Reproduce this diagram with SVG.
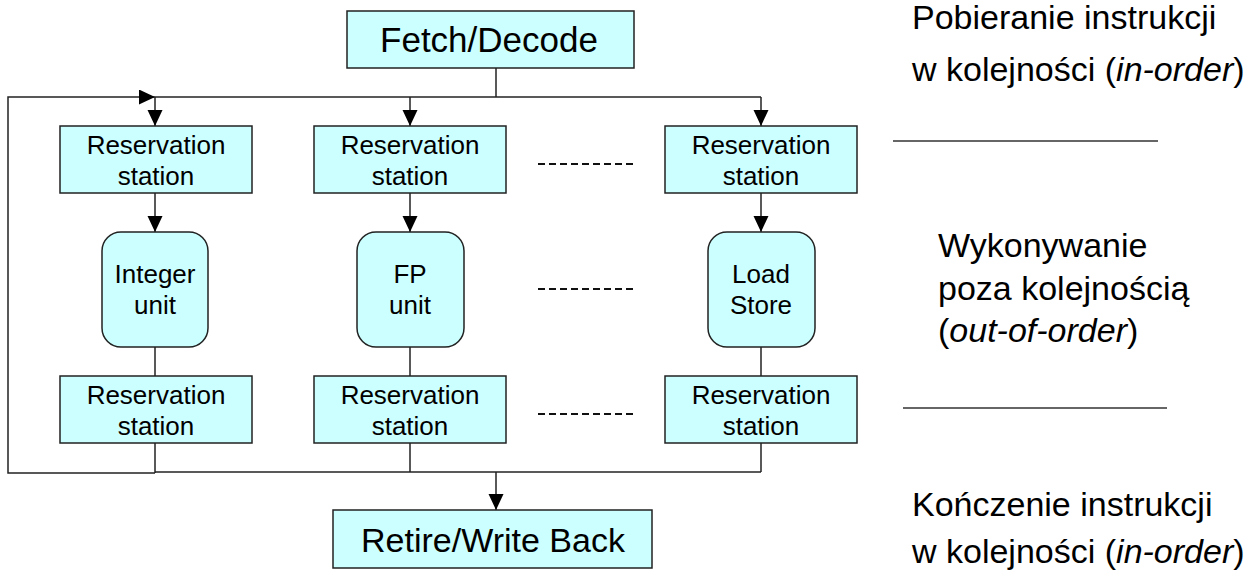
<svg xmlns="http://www.w3.org/2000/svg" width="1254" height="575" viewBox="0 0 1254 575">
  <style>
    .box { fill: #ccffff; stroke: #222; stroke-width: 1.5; }
    .wire { fill: none; stroke: #222; stroke-width: 1.5; }
    .dots { fill: none; stroke: #111; stroke-width: 2; stroke-dasharray: 7 4; }
    .rule { fill: none; stroke: #333; stroke-width: 1.5; }
    .t { font-family: "Liberation Sans", Arial, sans-serif; fill: #000; text-anchor: middle; }
    .sm { font-size: 26px; }
    .lg { font-size: 35px; }
    .lg2 { font-size: 34px; }
    .note { font-family: "Liberation Sans", Arial, sans-serif; font-size: 34px; fill: #000; }
  </style>
  <defs>
    <marker id="arrow" markerUnits="userSpaceOnUse" markerWidth="16" markerHeight="16" refX="16" refY="7.5" orient="auto">
      <path d="M0,0 L16,7.5 L0,15 z" fill="#000"/>
    </marker>
  </defs>

  <rect width="1254" height="575" fill="#fff"/>

  <!-- connectors -->
  <g id="connectors">
    <path class="wire" d="M496,68 V97"/>
    <path class="wire" d="M155,473 H8 V97 H155" marker-end="url(#arrow)"/>
    <path class="wire" d="M155,97 H761"/>
    <path class="wire" d="M155,97 V126" marker-end="url(#arrow)"/>
    <path class="wire" d="M410,97 V126" marker-end="url(#arrow)"/>
    <path class="wire" d="M761,97 V126" marker-end="url(#arrow)"/>
    <path class="wire" d="M155,193 V232" marker-end="url(#arrow)"/>
    <path class="wire" d="M410,193 V232" marker-end="url(#arrow)"/>
    <path class="wire" d="M761,193 V232" marker-end="url(#arrow)"/>
    <path class="wire" d="M155,347 V376"/>
    <path class="wire" d="M410,347 V376"/>
    <path class="wire" d="M761,347 V376"/>
    <path class="wire" d="M155,443 V473"/>
    <path class="wire" d="M410,443 V472"/>
    <path class="wire" d="M761,443 V472"/>
    <path class="wire" d="M155,472 H761"/>
    <path class="wire" d="M496,472 V510" marker-end="url(#arrow)"/>
    <!-- elided columns -->
    <path class="dots" d="M538,164 H634"/>
    <path class="dots" d="M538,289 H634"/>
    <path class="dots" d="M538,414 H634"/>
  </g>

  <g id="fetch">
    <rect class="box" x="347" y="11" width="287" height="57"/>
    <text class="t lg" x="489" y="52">Fetch/Decode</text>
  </g>

  <g id="rs-in-1">
    <rect class="box" x="60" y="126" width="192" height="67"/>
    <text class="t sm" x="156" y="154">Reservation</text>
    <text class="t sm" x="156" y="185">station</text>
  </g>
  <g id="rs-in-2">
    <rect class="box" x="314" y="126" width="192" height="67"/>
    <text class="t sm" x="410" y="154">Reservation</text>
    <text class="t sm" x="410" y="185">station</text>
  </g>
  <g id="rs-in-3">
    <rect class="box" x="665" y="126" width="192" height="67"/>
    <text class="t sm" x="761" y="154">Reservation</text>
    <text class="t sm" x="761" y="185">station</text>
  </g>

  <g id="unit-int">
    <rect class="box" x="102" y="232" width="106" height="115" rx="19"/>
    <text class="t sm" x="155" y="283">Integer</text>
    <text class="t sm" x="155" y="314">unit</text>
  </g>
  <g id="unit-fp">
    <rect class="box" x="357" y="232" width="107" height="115" rx="19"/>
    <text class="t sm" x="410" y="283">FP</text>
    <text class="t sm" x="410" y="314">unit</text>
  </g>
  <g id="unit-ls">
    <rect class="box" x="708" y="232" width="107" height="115" rx="19"/>
    <text class="t sm" x="761" y="283">Load</text>
    <text class="t sm" x="761" y="314">Store</text>
  </g>

  <g id="rs-out-1">
    <rect class="box" x="60" y="376" width="192" height="67"/>
    <text class="t sm" x="156" y="404">Reservation</text>
    <text class="t sm" x="156" y="435">station</text>
  </g>
  <g id="rs-out-2">
    <rect class="box" x="314" y="376" width="192" height="67"/>
    <text class="t sm" x="410" y="404">Reservation</text>
    <text class="t sm" x="410" y="435">station</text>
  </g>
  <g id="rs-out-3">
    <rect class="box" x="665" y="376" width="192" height="67"/>
    <text class="t sm" x="761" y="404">Reservation</text>
    <text class="t sm" x="761" y="435">station</text>
  </g>

  <g id="retire">
    <rect class="box" x="333" y="510" width="319" height="58"/>
    <text class="t lg2" x="493" y="552">Retire/Write Back</text>
  </g>

  <!-- stage notes on the right -->
  <g id="notes">
    <text class="note" x="912" y="29">Pobieranie instrukcji</text>
    <text class="note" x="912" y="81">w kolejności (<tspan font-style="italic">in-order</tspan>)</text>
    <path class="rule" d="M893,141 H1158"/>
    <text class="note" x="938" y="257">Wykonywanie</text>
    <text class="note" x="938" y="300">poza kolejnością</text>
    <text class="note" x="938" y="342">(<tspan font-style="italic">out-of-order</tspan>)</text>
    <path class="rule" d="M903,408 H1167"/>
    <text class="note" x="912" y="516">Kończenie instrukcji</text>
    <text class="note" x="912" y="563">w kolejności (<tspan font-style="italic">in-order</tspan>)</text>
  </g>
</svg>
